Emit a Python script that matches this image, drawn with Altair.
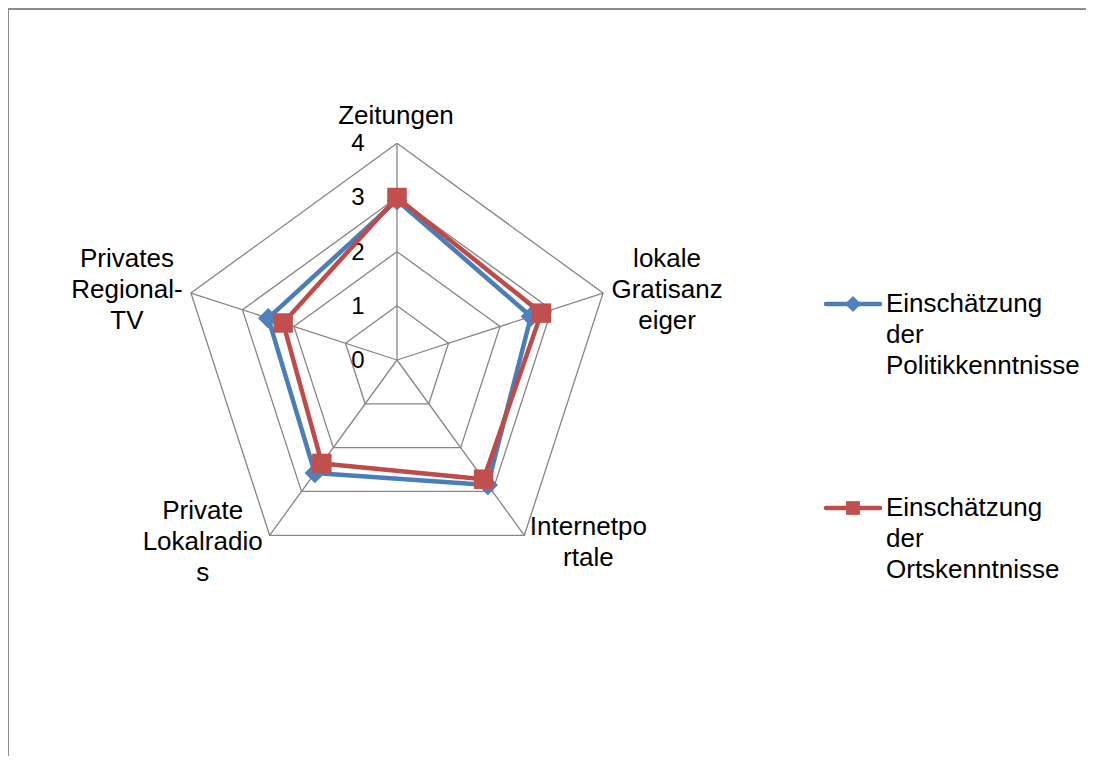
import altair as alt
import pandas as pd
import numpy as np

# ---------------- data ----------------
categories = ["Zeitungen", "lokale Gratisanzeiger", "Internetportale",
              "Private Lokalradios", "Privates Regional-TV"]
category_labels = ["Zeitungen", "lokale\nGratisanz\neiger", "Internetpo\nrtale",
                   "Private\nLokalradio\ns", "Privates\nRegional-\nTV"]
series_names = ["Einschätzung der Politikkenntnisse", "Einschätzung der Ortskenntnisse"]
legend_labels = ["Einschätzung\nder\nPolitikkenntnisse", "Einschätzung\nder\nOrtskenntnisse"]
politik = [2.95, 2.6, 2.85, 2.58, 2.5]
orts = [3.0, 2.8, 2.72, 2.36, 2.21]
ticks = [0, 1, 2, 3, 4]

# ---------------- layout / style ----------------
W, H = 1078, 748
CX, CY = 389, 352          # centre of the radar (chart pixels)
PX = 54.17                 # pixels per unit
FONT = "Liberation Sans"
GRID = "#868686"
BLUE_LINE, BLUE_FILL = "#4A7EBB", "#4F81BD"
RED_LINE, RED_FILL = "#BE4B48", "#C0504D"

n = len(categories)
xs = alt.Scale(domain=[-CX / PX, (W - CX) / PX], nice=False, zero=False)
ys = alt.Scale(domain=[-(H - CY) / PX, CY / PX], nice=False, zero=False)


def X(f):
    return alt.X(f, type="quantitative", scale=xs, axis=None)


def Y(f):
    return alt.Y(f, type="quantitative", scale=ys, axis=None)


def polar(r, k):
    t = 2 * np.pi * k / n
    return r * np.sin(t), r * np.cos(t)


# grid rings
ring_rows = []
for r in ticks[1:]:
    for k in range(n + 1):
        x, y = polar(r, k % n)
        ring_rows.append({"ring": r, "k": k, "x": x, "y": y})
rings_df = pd.DataFrame(ring_rows)

# spokes
spoke_rows = []
for k in range(n):
    x, y = polar(ticks[-1], k)
    spoke_rows.append({"k": k, "x0": 0.0, "y0": 0.0, "x": x, "y": y})
spokes_df = pd.DataFrame(spoke_rows)

# tick labels
ticks_df = pd.DataFrame({"t": ticks, "x": [0.0] * len(ticks), "y": [float(t) for t in ticks],
                         "label": [str(t) for t in ticks]})


def series_df(values, name):
    rows = []
    for k in range(n + 1):
        v = values[k % n]
        x, y = polar(v, k % n)
        rows.append({"series": name, "k": k, "value": v, "x": x, "y": y,
                     "category": categories[k % n]})
    return pd.DataFrame(rows)


blue_df = series_df(politik, series_names[0])
red_df = series_df(orts, series_names[1])

layers = []

# frame border (top and left edges visible)
one = pd.DataFrame({"a": [0]})
layers.append(alt.Chart(one).mark_rule(color="#8c8c8c", strokeWidth=2).encode(
    x=alt.value(0), x2=alt.value(W), y=alt.value(1)))
layers.append(alt.Chart(one).mark_rule(color="#8c8c8c", strokeWidth=2).encode(
    x=alt.value(0), y=alt.value(0), y2=alt.value(H)))

# grid
layers.append(alt.Chart(rings_df).mark_line(color=GRID, strokeWidth=1.3).encode(
    x=X("x"), y=Y("y"), detail="ring:N", order="k:Q"))
layers.append(alt.Chart(spokes_df).mark_rule(color=GRID, strokeWidth=1.3).encode(
    x=X("x0"), y=Y("y0"), x2="x", y2="y"))

# tick labels
layers.append(alt.Chart(ticks_df).mark_text(
    font=FONT, fontSize=24, color="black", align="center", baseline="middle", dx=-39, dy=1
).encode(x=X("x"), y=Y("y"), text="label:N"))

# category labels (offset of the first line from the outer vertex)
label_offsets = [(-1, -27), (64, -34), (64, -8), (-67, -24), (-64, -34)]
for k in range(n):
    x, y = polar(ticks[-1], k)
    d = pd.DataFrame({"x": [x], "y": [y], "label": [category_labels[k]]})
    dx, dy = label_offsets[k]
    layers.append(alt.Chart(d).mark_text(
        font=FONT, fontSize=26, color="black", align="center", baseline="middle",
        lineBreak="\n", lineHeight=31, dx=dx, dy=dy
    ).encode(x=X("x"), y=Y("y"), text="label:N"))

# series
for df, lc, fc, shape in [(blue_df, BLUE_LINE, BLUE_FILL, "diamond"),
                          (red_df, RED_LINE, RED_FILL, "square")]:
    layers.append(alt.Chart(df).mark_line(color=lc, strokeWidth=4.5, strokeJoin="round").encode(
        x=X("x"), y=Y("y"), order="k:Q"))
    layers.append(alt.Chart(df[df["k"] < n]).mark_point(
        shape=shape, filled=True, color=fc, opacity=1, size=380 if shape == "square" else 420
    ).encode(x=X("x"), y=Y("y"), tooltip=["series:N", "category:N", "value:Q"]))

# legend
legend_y = [296, 500]
for i, (lc, fc, shape) in enumerate([(BLUE_LINE, BLUE_FILL, "diamond"),
                                     (RED_LINE, RED_FILL, "square")]):
    ly = legend_y[i]
    d = pd.DataFrame({"series": [series_names[i]], "label": [legend_labels[i]]})
    layers.append(alt.Chart(d).mark_rule(color=lc, strokeWidth=4.5, strokeCap="round").encode(
        x=alt.value(818), x2=alt.value(872), y=alt.value(ly)))
    layers.append(alt.Chart(d).mark_point(
        shape=shape, filled=True, color=fc, opacity=1, size=190 if shape == "square" else 260
    ).encode(x=alt.value(845), y=alt.value(ly)))
    layers.append(alt.Chart(d).mark_text(
        font=FONT, fontSize=26, color="black", align="left", baseline="middle",
        lineBreak="\n", lineHeight=31
    ).encode(x=alt.value(878), y=alt.value(ly), text="label:N"))

chart = alt.layer(*layers).properties(
    width=W, height=H, padding=0,
    autosize=alt.AutoSizeParams(type="none"),
    background="white",
).configure_view(stroke=None)

chart.save("out.html", embed_options={"renderer": "svg", "actions": False})
